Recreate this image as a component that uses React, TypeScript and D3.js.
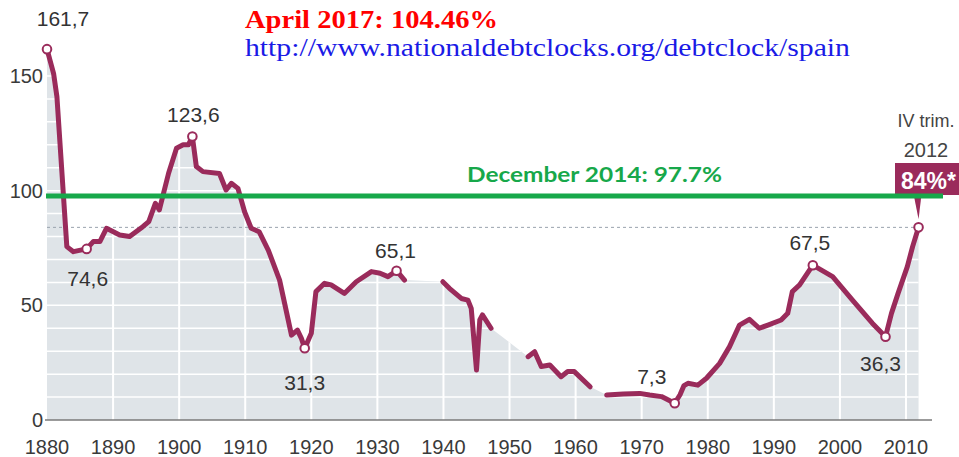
import React from "react";
import * as d3 from "d3";

// ---- data ----
const seg1Years = [1880, 1881, 1881.5, 1883, 1884, 1886, 1887, 1888, 1889, 1891, 1892.5, 1894.5, 1895.4, 1896.4, 1897, 1898.4, 1899.6, 1900.6, 1901.4, 1902, 1902.6, 1903.6, 1906.1, 1907.1, 1907.9, 1908.9, 1909.9, 1910.9, 1912.1, 1913.5, 1915.2, 1917, 1917.9, 1918.5, 1919, 1920, 1920.7, 1922, 1923, 1925, 1926.8, 1929.1, 1930.4, 1931.6, 1932.9, 1934.1];
const seg1Debt = [161.7, 151, 141, 75.6, 73.4, 74.6, 77.8, 77.8, 83.6, 80.7, 80, 84.3, 86.5, 94.5, 91.6, 107.6, 118.5, 120, 120, 123.6, 110.5, 108.3, 107.5, 100.3, 103.2, 101, 90.8, 83.6, 82.1, 74, 61, 37, 39.2, 35.6, 31.3, 37.8, 56, 59.6, 58.9, 55.2, 60.3, 64.7, 64, 62.5, 65.1, 61];
const seg2Years = [1939.9, 1940.9, 1942.7, 1943.7, 1944.2, 1945, 1945.5, 1945.9, 1947.2];
const seg2Debt = [60.3, 57.4, 53, 52.3, 48.7, 21.8, 43.6, 45.8, 40];
const seg3Years = [1952.8, 1953.8, 1954.8, 1956.1, 1957.8, 1958.8, 1959.8, 1962.2];
const seg3Debt = [27.6, 29.8, 23.3, 24, 18.9, 21.1, 21.1, 14.5];
const seg4Years = [1964.7, 1967.2, 1969.7, 1971.2, 1973, 1975, 1975.8, 1976.4, 1977, 1978.5, 1979.8, 1981.8, 1983.3, 1984.8, 1986.3, 1987.8, 1989.1, 1991.1, 1992.1, 1992.8, 1993.9, 1995.9, 1998.9, 2001.9, 2004.9, 2006.9, 2007.8, 2008.8, 2010.2, 2011, 2011.9];
const seg4Debt = [10.9, 11.3, 11.6, 10.9, 10.2, 7.3, 11, 15, 16, 15.2, 18.2, 24.7, 32, 41.4, 43.9, 40, 41.4, 43.6, 46.5, 56, 58.9, 67.5, 62.5, 52.3, 42.2, 36.3, 46.5, 55.2, 66.9, 75.6, 84];

const markerYears = [1880, 1886, 1902, 1919, 1932.9, 1975, 1995.9, 2006.9, 2011.9];
const markerDebt = [161.7, 74.6, 123.6, 31.3, 65.1, 7.3, 67.5, 36.3, 84];
const markerLabels = ["161,7", "74,6", "123,6", "31,3", "65,1", "7,3", "67,5", "36,3", ""];
const labelDx = [16, 1, 1, 0, -1, -23, -3, -5, 0];
const labelDy = [-31, 29, -23, 34, -21, -27, -23, 26, 0];

const xTicks = [1880, 1890, 1900, 1910, 1920, 1930, 1940, 1950, 1960, 1970, 1980, 1990, 2000, 2010];
const yTicks = [0, 50, 100, 150];
const gridY = [10, 20, 30, 40, 50, 60, 70, 80, 90, 100, 110, 120, 130, 140, 150, 160];

const dec2014 = 97.7;
const latestValue = 84;
const titleText = "April 2017: 104.46%";
const urlText = "http://www.nationaldebtclocks.org/debtclock/spain";
const greenText = "December 2014: 97.7%";

const W = 959;
const H = 457;
const MAROON = "#9a2b5b";
const GREEN = "#17a84a";
const GREY_AREA = "#dfe4e8";

export default function App() {
  const x = d3.scaleLinear().domain([1880, 2010]).range([47, 906]);
  const y = d3.scaleLinear().domain([0, 150]).range([420, 76]);

  const segments = [
    seg1Years.map((yr, i) => [yr, seg1Debt[i]] as [number, number]),
    seg2Years.map((yr, i) => [yr, seg2Debt[i]] as [number, number]),
    seg3Years.map((yr, i) => [yr, seg3Debt[i]] as [number, number]),
    seg4Years.map((yr, i) => [yr, seg4Debt[i]] as [number, number]),
  ];
  const all = segments.flat();

  const area = d3
    .area<[number, number]>()
    .x((d) => x(d[0]))
    .y0(y(0))
    .y1((d) => y(d[1]));
  const line = d3
    .line<[number, number]>()
    .x((d) => x(d[0]))
    .y((d) => y(d[1]));

  const areaLeft = x(1880);
  const areaRight = x(2012.1);
  const lastX = x(2011.9);
  const lastY = y(latestValue);
  const greenY = y(dec2014);

  const sans = "'Liberation Sans', Arial, sans-serif";

  return (
    <svg
      width={W}
      height={H}
      style={{ position: "absolute", left: 0, top: 0, background: "#fff" }}
    >
      <defs>
        <clipPath id="areaClip">
          <path d={area(all) || ""} />
        </clipPath>
      </defs>
      <path d={area(all) || ""} fill={GREY_AREA} />
      <g clipPath="url(#areaClip)">
        {gridY.map((v) => (
          <line key={"gy" + v} x1={areaLeft} x2={areaRight} y1={y(v)} y2={y(v)} stroke="#fff" strokeWidth={1.5} />
        ))}
        {xTicks.slice(1).map((t) => (
          <line key={"gx" + t} x1={x(t)} x2={x(t)} y1={y(0)} y2={y(170)} stroke="#fff" strokeWidth={2} />
        ))}
      </g>
      {/* dashed reference at latest value */}
      <line x1={areaLeft} x2={lastX} y1={lastY} y2={lastY} stroke="#9aa3ad" strokeWidth={1} strokeDasharray="3,3" />

      {/* axis */}
      <line x1={45} x2={932} y1={y(0)} y2={y(0)} stroke="#7a7a7a" strokeWidth={1.5} />
      {xTicks.map((t) => (
        <text key={"xt" + t} x={x(t)} y={454} textAnchor="middle" fontFamily={sans} fontSize={20} fill="#3a3a3a">
          {t}
        </text>
      ))}
      {yTicks.map((t) => (
        <text key={"yt" + t} x={43} y={y(t) + 7} textAnchor="end" fontFamily={sans} fontSize={20} fill="#3a3a3a">
          {t}
        </text>
      ))}

      {/* series */}
      {segments.map((s, i) => (
        <path key={"seg" + i} d={line(s) || ""} fill="none" stroke={MAROON} strokeWidth={5} strokeLinejoin="round" strokeLinecap="round" />
      ))}
      {markerYears.map((yr, i) => (
        <circle key={"m" + i} cx={x(yr)} cy={y(markerDebt[i])} r={4.3} fill="#fff" stroke={MAROON} strokeWidth={2} />
      ))}
      {markerLabels.map((lab, i) =>
        lab ? (
          <text
            key={"ml" + i}
            x={x(markerYears[i]) + labelDx[i]}
            y={y(markerDebt[i]) + labelDy[i] + 8}
            textAnchor="middle"
            fontFamily={sans}
            fontSize={21}
            fill="#333"
          >
            {lab}
          </text>
        ) : null
      )}

      {/* latest value callout */}
      <text x={926} y={127} textAnchor="middle" fontFamily={sans} fontSize={18} fill="#444">IV trim.</text>
      <text x={926} y={157} textAnchor="middle" fontFamily={sans} fontSize={20} fill="#444">2012</text>
      <rect x={895} y={163} width={70} height={32} fill={MAROON} />
      <path d={`M${lastX - 5},194 L${lastX + 3},194 L${lastX},${lastY - 8} Z`} fill={MAROON} />
      <text x={901} y={189} fontFamily={sans} fontSize={23} fontWeight="bold" fill="#fff">
        {latestValue + "%*"}
      </text>

      {/* December 2014 line */}
      <line x1={46} x2={943} y1={greenY} y2={greenY} stroke={GREEN} strokeWidth={5} />
      <text x={467} y={182} fontFamily="Lato, 'Open Sans', sans-serif" fontWeight="bold" fontSize={21} fill={GREEN} textLength={255} lengthAdjust="spacingAndGlyphs">
        {greenText}
      </text>

      {/* titles */}
      <text x={245} y={28} fontFamily="'Liberation Serif', 'DejaVu Serif', serif" fontWeight="bold" fontSize={25} fill="#ff0000" textLength={253} lengthAdjust="spacingAndGlyphs">
        {titleText}
      </text>
      <text x={245} y={56} fontFamily="'Liberation Serif', 'DejaVu Serif', serif" fontSize={25} fill="#1a1ae6" textLength={605} lengthAdjust="spacingAndGlyphs">
        {urlText}
      </text>
    </svg>
  );
}
